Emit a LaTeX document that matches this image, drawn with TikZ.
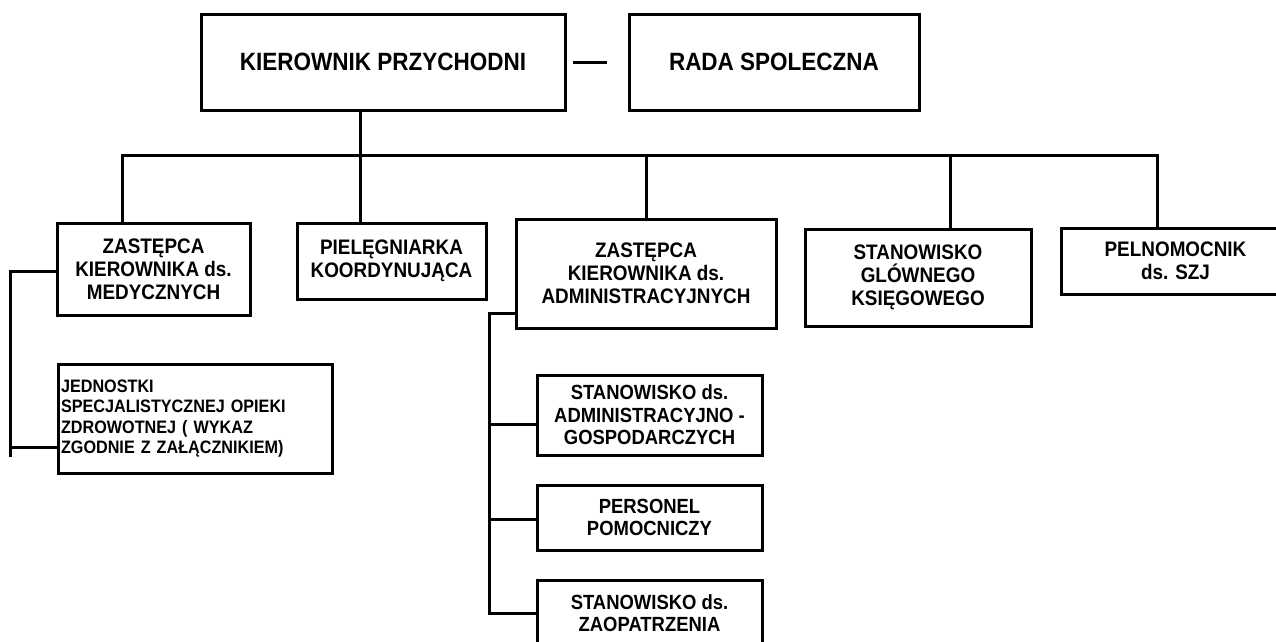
\documentclass[tikz,border=0pt]{standalone}
\usepackage{fontspec}
\setmainfont[FakeStretch=0.9]{Liberation Sans}
\begin{document}
\begin{tikzpicture}[x=1pt, y=-1pt, line width=3pt]
\tikzstyle{box}=[rectangle,draw=black,line width=3pt,align=center,inner sep=2pt]
\tikzstyle{chief}=[box,font=\fontsize{25}{28}\selectfont\bfseries]
\tikzstyle{dept}=[box,font=\fontsize{21}{23}\selectfont\bfseries]
\tikzstyle{unit}=[box,font=\fontsize{20.5}{22.5}\selectfont\bfseries]
\tikzstyle{listing}=[box,align=left,text width=268pt,inner xsep=3pt,font=\fontsize{18}{20.5}\selectfont\bfseries]
\useasboundingbox (0,0) rectangle (1276,641);

\node[chief,minimum width=364pt,minimum height=96pt] (kier) at (383,62) {KIEROWNIK PRZYCHODNI};
\node[chief,minimum width=290pt,minimum height=96pt,node distance=391pt] (rada) [right of=kier] {RADA SPOLECZNA}
	edge [shorten <=21pt, shorten >=6pt] (kier);

\node[dept,minimum width=193pt,minimum height=92pt] (medyczny) at (153.5,269) {ZASTĘPCA\\KIEROWNIKA ds.\\MEDYCZNYCH};
\node[dept,minimum width=189pt,minimum height=76pt] (piel) at (391.5,261) {PIELĘGNIARKA\\KOORDYNUJĄCA};
\node[dept,minimum width=260pt,minimum height=109pt] (admin) at (646,273.5) {ZASTĘPCA\\KIEROWNIKA ds.\\ADMINISTRACYJNYCH};
\node[dept,minimum width=226pt,minimum height=97pt] (ksiegowy) at (918,277.5) {STANOWISKO\\GLÓWNEGO\\KSIĘGOWEGO};
\node[dept,minimum width=229pt,minimum height=66pt] (pelnomocnik) at (1175.5,261) {PELNOMOCNIK\\ds. SZJ};

\node[listing,minimum height=109pt] (jednostki) at (195,418.5) {JEDNOSTKI\\SPECJALISTYCZNEJ OPIEKI\\ZDROWOTNEJ ( WYKAZ\\ZGODNIE Z ZAŁĄCZNIKIEM)};

\node[unit,minimum width=225pt,minimum height=80pt] (stan) at (649.5,415) {STANOWISKO ds.\\ADMINISTRACYJNO -\\GOSPODARCZYCH};
\node[unit,minimum width=225pt,minimum height=65pt,node distance=102.5pt] (pers) [below of=stan] {PERSONEL\\POMOCNICZY};
\node[unit,minimum width=225pt,minimum height=66pt,node distance=95.5pt] (zaop) [below of=pers] {STANOWISKO ds.\\ZAOPATRZENIA};

% szyna pod kierownikiem
\coordinate (b1) at (122,155);
\coordinate (b2) at (360,155);
\coordinate (b3) at (646,155);
\coordinate (b4) at (950,155);
\coordinate (b5) at (1157,155);
\draw (b1 |- medyczny.north) -- (b1) -- (b5) -- (b5 |- pelnomocnik.north);
\draw (kier.south -| b2) -- (b2 |- piel.north);
\draw (b3) -- (b3 |- admin.north);
\draw (b4) -- (b4 |- ksiegowy.north);

% lewa klamra
\coordinate (l1) at (10,271);
\coordinate (l2) at (10,447);
\coordinate (l3) at (10,457);
\draw (l1 -| medyczny.west) -- (l1) -- (l3);
\draw (l2) -- (l2 -| jednostki.west);

% klamra administracji
\coordinate (a1) at (489,313);
\coordinate (a2) at (489,424);
\coordinate (a3) at (489,519);
\coordinate (a4) at (489,613);
\draw (a1 -| admin.west) -- (a1) -- (a4) -- (a4 -| zaop.west);
\draw (a2) -- (a2 -| stan.west);
\draw (a3) -- (a3 -| pers.west);

\end{tikzpicture}
\end{document}
